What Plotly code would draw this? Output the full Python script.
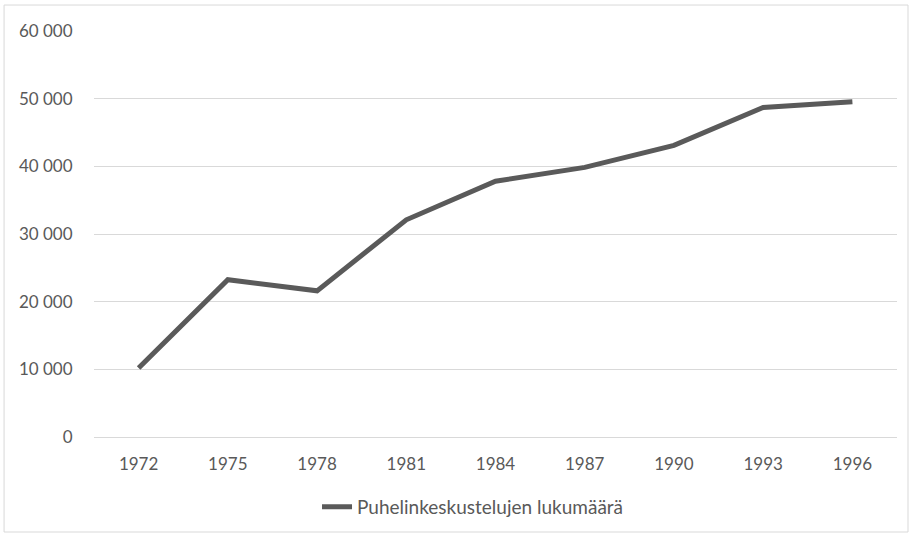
import plotly.graph_objects as go

# vuodet ja puhelinkeskustelujen määrä (luettu kuvasta)
vuodet = ["1972", "1975", "1978", "1981", "1984", "1987", "1990", "1993", "1996"]
keskustelut = [10200, 23250, 21600, 32100, 37800, 39850, 43100, 48700, 49550]
sarja = "Puhelinkeskustelujen lukumäärä"

fig = go.Figure()
fig.add_trace(go.Scatter(x=vuodet, y=keskustelut, mode="lines", name=sarja,
                         line=dict(color="#5a5a5a", width=5)))

fnt = dict(family="Lato, Liberation Sans", size=17, color="#595959")

fig.update_layout(
    width=913, height=536,
    margin=dict(l=94, r=16, t=31, b=99, autoexpand=False),
    paper_bgcolor="white", plot_bgcolor="white",
    separators=", ",
    font=fnt,
    showlegend=True,
    legend=dict(orientation="h", x=0.472, xanchor="center", y=-0.172, yanchor="middle",
                font=dict(family="Lato, Liberation Sans", size=19, color="#595959")),
    xaxis=dict(type="category", range=[-0.5, len(vuodet) - 0.5],
               showgrid=False, showline=False, zeroline=False,
               ticks="outside", ticklen=12, tickcolor="rgba(0,0,0,0)",
               tickfont=fnt),
    yaxis=dict(range=[0, 60000], dtick=10000, tickformat=",d",
               showgrid=True, gridcolor="#d9d9d9", gridwidth=1,
               zeroline=True, zerolinecolor="#d9d9d9", zerolinewidth=1,
               showline=False, ticks="outside", ticklen=17,
               tickcolor="rgba(0,0,0,0)", tickfont=fnt),
)

# kaavion reunaviiva
fig.add_shape(type="rect", xref="paper", yref="paper",
              x0=-0.112, x1=1.0137, y0=-0.234, y1=1.064,
              line=dict(color="#d9d9d9", width=1), layer="below")

# body-marginaali pois, jotta kuva alkaa sivun kulmasta
fig.write_html("out.html", config={"displayModeBar": False},
               post_script="document.body.style.margin='0';")
